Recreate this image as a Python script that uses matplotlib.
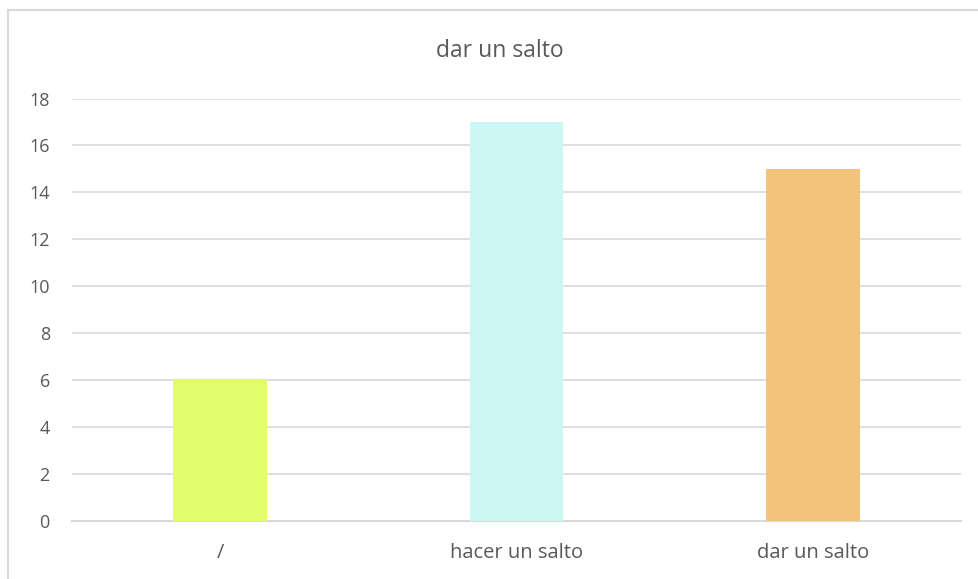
import matplotlib
matplotlib.use("Agg")
import matplotlib.pyplot as plt
from matplotlib.patches import Rectangle

categories = ["/", "hacer un salto", "dar un salto"]
values = [6, 17, 15]
colors = ["#E2FC6A", "#CCF7F5", "#F4C37B"]
yticks = [0, 2, 4, 6, 8, 10, 12, 14, 16, 18]
title = "dar un salto"

W, H = 979, 579
fig = plt.figure(figsize=(W / 100, H / 100), dpi=100)
plt.rcParams['font.family'] = ['Open Sans', 'DejaVu Sans']

# chart border
fig.patches.append(Rectangle((8 / W, -0.1), 1.2, 1 - 10 / H + 0.1, transform=fig.transFigure,
                             fill=False, edgecolor="#D9D9D9", linewidth=1.5))

left, right = 72 / W, 961 / W
bottom, top = 1 - 521 / H, 1 - 98.5 / H
ax = fig.add_axes([left, bottom, right - left, top - bottom])

x = range(len(categories))
ax.bar(x, values, width=0.315, color=colors, zorder=3)
ax.set_xlim(-0.5, len(categories) - 0.5)
ax.set_ylim(0, 18)
ax.set_yticks(yticks)
ax.set_xticks(list(x))
ax.set_xticklabels(categories)
ax.grid(axis="y", color="#D9D9D9", linewidth=1.2, zorder=0)
for s in ["top", "right", "left"]:
    ax.spines[s].set_visible(False)
ax.spines["bottom"].set_color("#D9D9D9")
ax.spines["bottom"].set_linewidth(1.5)
ax.tick_params(axis="both", length=0, labelcolor="#595959")
ax.tick_params(axis="y", pad=16, labelsize=13)
ax.tick_params(axis="x", pad=15.5, labelsize=14.5)

fig.text(500 / W, 1 - 51 / H, title, ha="center", va="center", fontsize=16.5, color="#595959")

fig.savefig("out.png", dpi=100)
